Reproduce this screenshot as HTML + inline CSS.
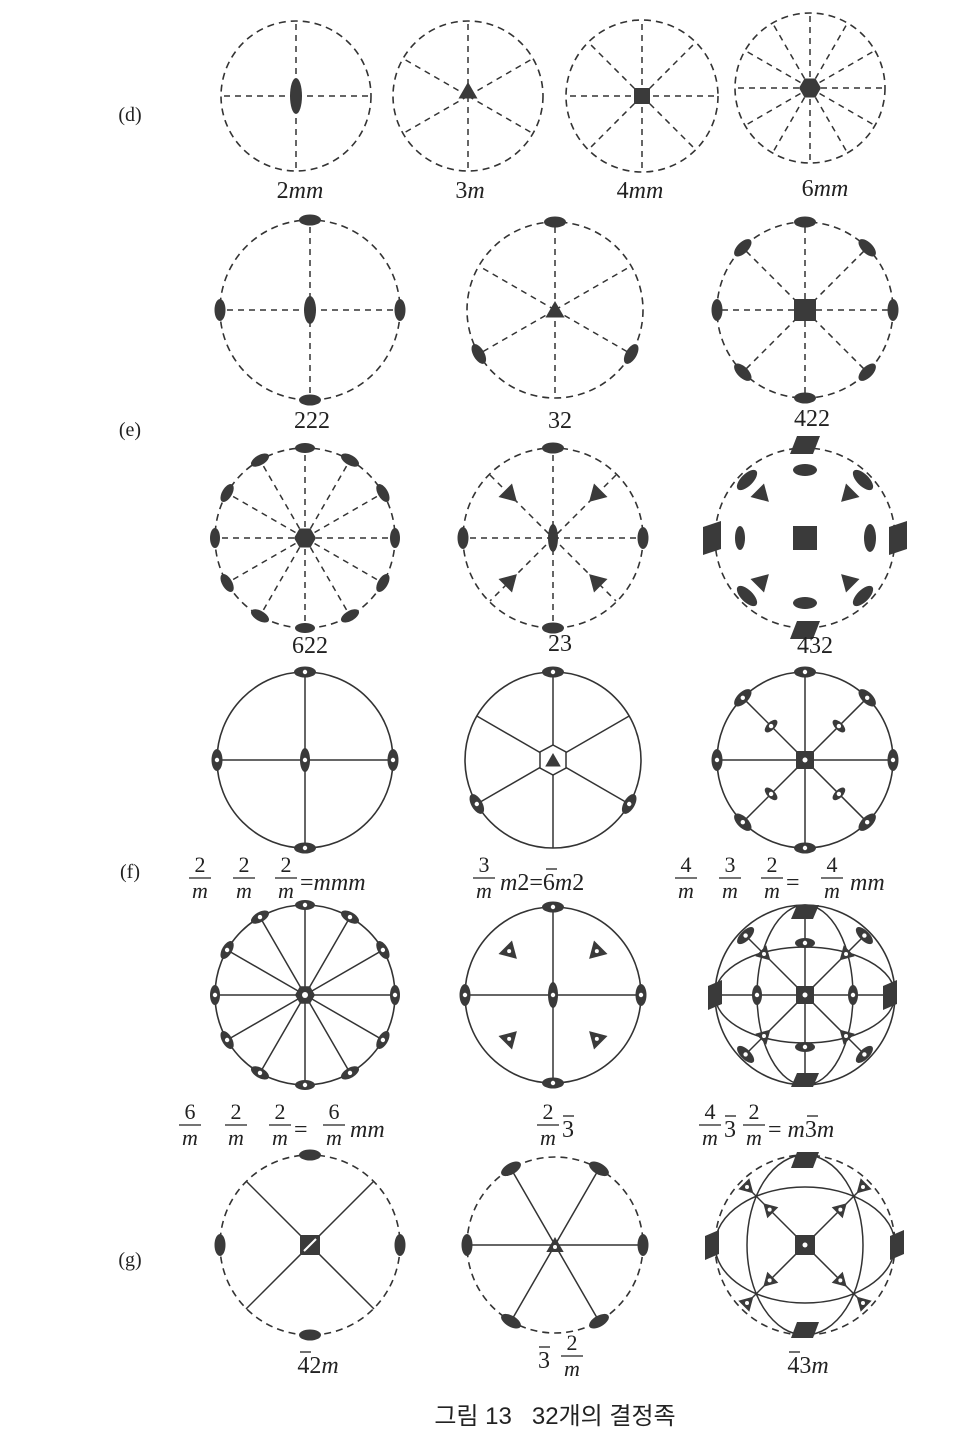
<!DOCTYPE html>
<html><head><meta charset="utf-8">
<style>
html,body{margin:0;padding:0;background:#fff;}
svg{display:block;}
text{font-family:"Liberation Serif",serif;fill:#222;}
</style></head>
<body>
<svg id="s" width="969" height="1434" viewBox="0 0 969 1434" xmlns="http://www.w3.org/2000/svg"></svg>
<script>
const S=document.getElementById('s');let h='';
const F='#3a3a3a';
function rad(a){return a*Math.PI/180;}
function circ(cx,cy,r,d){h+=`<circle cx="${cx}" cy="${cy}" r="${r}" fill="none" stroke="#333" stroke-width="1.6" ${d?'stroke-dasharray="7 5"':''}/>`;}
function spokes(cx,cy,r,n,st,d){for(let i=0;i<n;i++){const a=rad(st+i*360/n);h+=`<line x1="${cx}" y1="${cy}" x2="${(cx+r*Math.cos(a)).toFixed(1)}" y2="${(cy-r*Math.sin(a)).toFixed(1)}" stroke="#333" stroke-width="1.5" ${d?'stroke-dasharray="6 5"':''}/>`;}}
function lens(x,y,rot,a,b,w){h+=`<ellipse cx="0" cy="0" rx="${a}" ry="${b}" fill="${F}" transform="translate(${x.toFixed(1)},${y.toFixed(1)}) rotate(${rot})"/>`;if(w)h+=`<circle cx="${x.toFixed(1)}" cy="${y.toFixed(1)}" r="2.2" fill="#fff"/>`;}
function rim(cx,cy,r,angs,w,a,b){angs.forEach(t=>{const x=cx+r*Math.cos(rad(t)),y=cy-r*Math.sin(rad(t));lens(x,y,-(t+90),a||11,b||5.5,w);});}
function tri(x,y,s,w,rot){rot=rot||0;let p=[];for(let i=0;i<3;i++){const a=rad(90+i*120+rot);p.push((x+s*Math.cos(a)).toFixed(1)+','+(y-s*Math.sin(a)).toFixed(1));}h+=`<polygon points="${p.join(' ')}" fill="${F}"/>`;if(w)h+=`<circle cx="${x}" cy="${y}" r="2" fill="#fff"/>`;}
function sq(x,y,s,w,rot){h+=`<rect x="${x-s}" y="${y-s}" width="${2*s}" height="${2*s}" fill="${F}" transform="rotate(${rot||0} ${x} ${y})"/>`;if(w)h+=`<circle cx="${x}" cy="${y}" r="2.5" fill="#fff"/>`;}
function hex(x,y,s,w){let p=[];for(let i=0;i<6;i++){const a=rad(i*60);p.push((x+s*Math.cos(a)).toFixed(1)+','+(y+s*Math.sin(a)).toFixed(1));}h+=`<polygon points="${p.join(' ')}" fill="${F}"/>`;if(w)h+=`<circle cx="${x}" cy="${y}" r="3" fill="#fff"/>`;}
function para(x,y,wd,ht,sk,vert){h+=`<polygon points="${vert?`${x-wd/2},${y-ht/2+sk} ${x+wd/2},${y-ht/2} ${x+wd/2},${y+ht/2-sk} ${x-wd/2},${y+ht/2}`:`${x-wd/2+sk},${y-ht/2} ${x+wd/2},${y-ht/2} ${x+wd/2-sk},${y+ht/2} ${x-wd/2},${y+ht/2}`}" fill="${F}"/>`;}
function t(x,y,s,sz,it){h+=`<text x="${x}" y="${y}" font-size="${sz||24}" text-anchor="middle" ${it?'font-style="italic"':''}>${s}</text>`;}
function tl(x,y,s){h+=`<text x="${x}" y="${y}" font-size="24">${s}</text>`;}
function bar(x,y,w){h+=`<line x1="${x}" y1="${y}" x2="${x+(w||10)}" y2="${y}" stroke="#222" stroke-width="1.3"/>`;}
function frac(x,y,n,d){t(x,y-6,n,22);h+=`<line x1="${x-11}" y1="${y}" x2="${x+11}" y2="${y}" stroke="#222" stroke-width="1.3"/>`;t(x,y+20,d,22,1);}
const a8=[0,45,90,135,180,225,270,315],a12=[0,30,60,90,120,150,180,210,240,270,300,330],a4=[0,90,180,270];
// row d
circ(296,96,75,1);spokes(296,96,75,4,0,1);lens(296,96,90,18,6);
circ(468,96,75,1);spokes(468,96,75,6,30,1);tri(468,93,11);
circ(642,96,76,1);spokes(642,96,76,8,0,1);sq(642,96,8);
circ(810,88,75,1);spokes(810,88,75,12,0,1);hex(810,88,11);
t(130,121,'(d)',20);
h+=`<text x="300" y="198" font-size="24" text-anchor="middle">2<tspan font-style="italic">mm</tspan></text>`;
h+=`<text x="470" y="198" font-size="24" text-anchor="middle">3<tspan font-style="italic">m</tspan></text>`;
h+=`<text x="640" y="198" font-size="24" text-anchor="middle">4<tspan font-style="italic">mm</tspan></text>`;
h+=`<text x="825" y="196" font-size="24" text-anchor="middle">6<tspan font-style="italic">mm</tspan></text>`;
// row e1
circ(310,310,90,1);spokes(310,310,90,4,0,1);rim(310,310,90,a4);lens(310,310,90,14,6);
circ(555,310,88,1);spokes(555,310,88,6,30,1);rim(555,310,88,[90,210,330]);tri(555,312,11);
circ(805,310,88,1);spokes(805,310,88,8,0,1);rim(805,310,88,a8);sq(805,310,11);
t(130,436,'(e)',20);t(312,428,'222');t(560,428,'32');t(812,426,'422');
// row e2
circ(305,538,90,1);spokes(305,538,90,12,0,1);rim(305,538,90,a12,0,10,5);hex(305,538,11);
circ(553,538,90,1);spokes(553,538,90,4,0,1);h+=`<line x1="490" y1="475" x2="616" y2="601" stroke="#333" stroke-width="1.5" stroke-dasharray="6 5"/><line x1="616" y1="475" x2="490" y2="601" stroke="#333" stroke-width="1.5" stroke-dasharray="6 5"/>`;
rim(553,538,90,a4);lens(553,538,90,14,5);[45,135,225,315].forEach(a=>tri(553+62*Math.cos(rad(a)),538-62*Math.sin(rad(a)),11,0,a+90));
circ(805,538,90,1);sq(805,538,12);para(805,445,30,18,7);para(805,630,30,18,7);para(712,538,18,34,6,1);para(898,538,18,34,6,1);
lens(805,470,0,12,6);lens(805,603,0,12,6);lens(740,538,90,12,5);lens(870,538,90,14,6);
[45,135,225,315].forEach(a=>{lens(805+82*Math.cos(rad(a)),538-82*Math.sin(rad(a)),-(a+90),13,6);tri(805+62*Math.cos(rad(a)),538-62*Math.sin(rad(a)),11,0,a+90);});
t(310,653,'622');t(560,651,'23');t(815,653,'432');
// row f1
circ(305,760,88,0);spokes(305,760,88,4,0,0);rim(305,760,88,a4,1);lens(305,760,90,12,5,1);
circ(553,760,88,0);spokes(553,760,88,6,30,0);rim(553,760,88,[90,210,330],1);h+=`<polygon points="553,745 566,752 566,768 553,775 540,768 540,752" fill="#fff" stroke="#333" stroke-width="1.5"/>`;tri(553,762,9);
circ(805,760,88,0);spokes(805,760,88,8,0,0);rim(805,760,88,a8,1);sq(805,760,9,1);
[45,135,225,315].forEach(a=>lens(805+48*Math.cos(rad(a)),760-48*Math.sin(rad(a)),-(a+90),8,4,1));
t(130,878,'(f)',20);
frac(200,878,'2','m');frac(244,878,'2','m');frac(286,878,'2','m');h+=`<text x="300" y="890" font-size="24">=<tspan font-style="italic">mmm</tspan></text>`;
frac(484,878,'3','m');h+=`<text x="500" y="890" font-size="24"><tspan font-style="italic">m</tspan>2=6<tspan font-style="italic">m</tspan>2</text>`;bar(546,869,11);
frac(686,878,'4','m');frac(730,878,'3','m');frac(772,878,'2','m');tl(786,890,'=');frac(832,878,'4','m');h+=`<text x="850" y="890" font-size="24" font-style="italic">mm</text>`;
// row f2
circ(305,995,90,0);spokes(305,995,90,12,0,0);rim(305,995,90,a12,1,10,5);hex(305,995,10,1);
circ(553,995,88,0);spokes(553,995,88,4,0,0);rim(553,995,88,a4,1);lens(553,995,90,13,5,1);
[45,135,225,315].forEach(a=>tri(553+62*Math.cos(rad(a)),995-62*Math.sin(rad(a)),11,1,a+90));
circ(805,995,90,0);spokes(805,995,90,4,0,0);
h+=`<ellipse cx="805" cy="995" rx="90" ry="48" fill="none" stroke="#333" stroke-width="1.5"/><ellipse cx="805" cy="995" rx="48" ry="90" fill="none" stroke="#333" stroke-width="1.5"/>`;
h+=`<line x1="745" y1="935" x2="865" y2="1055" stroke="#333" stroke-width="1.5"/><line x1="865" y1="935" x2="745" y2="1055" stroke="#333" stroke-width="1.5"/>`;
sq(805,995,9,1);para(805,912,28,14,6);para(805,1080,28,14,6);para(715,995,14,30,6,1);para(890,995,14,30,6,1);
[45,135,225,315].forEach(a=>{lens(805+84*Math.cos(rad(a)),995-84*Math.sin(rad(a)),-(a+90),11,5,1);tri(805+58*Math.cos(rad(a)),995-58*Math.sin(rad(a)),9,1,a+90);});
lens(805,943,0,10,5,1);lens(805,1047,0,10,5,1);lens(757,995,90,10,5,1);lens(853,995,90,10,5,1);
frac(190,1125,'6','m');frac(236,1125,'2','m');frac(280,1125,'2','m');tl(294,1137,'=');frac(334,1125,'6','m');h+=`<text x="350" y="1137" font-size="24" font-style="italic">mm</text>`;
frac(548,1125,'2','m');tl(562,1137,'3');bar(563,1116,11);
frac(710,1125,'4','m');tl(724,1137,'3');bar(725,1116,11);frac(754,1125,'2','m');h+=`<text x="768" y="1137" font-size="24">= <tspan font-style="italic">m</tspan>3<tspan font-style="italic">m</tspan></text>`;bar(807,1116,11);
// row g
circ(310,1245,90,1);h+=`<line x1="246" y1="1181" x2="374" y2="1309" stroke="#333" stroke-width="1.5"/><line x1="374" y1="1181" x2="246" y2="1309" stroke="#333" stroke-width="1.5"/>`;
rim(310,1245,90,a4);sq(310,1245,10,0,0);h+=`<line x1="304" y1="1251" x2="316" y2="1239" stroke="#fff" stroke-width="2"/>`;
circ(555,1245,88,1);spokes(555,1245,88,6,0,0);rim(555,1245,88,[60,120,180,240,300,0]);tri(555,1247,10,1);
circ(805,1245,90,1);h+=`<ellipse cx="805" cy="1245" rx="90" ry="58" fill="none" stroke="#333" stroke-width="1.5"/><ellipse cx="805" cy="1245" rx="58" ry="90" fill="none" stroke="#333" stroke-width="1.5"/>`;
h+=`<line x1="745" y1="1185" x2="865" y2="1305" stroke="#333" stroke-width="1.5"/><line x1="865" y1="1185" x2="745" y2="1305" stroke="#333" stroke-width="1.5"/>`;
sq(805,1245,10,1);para(805,1160,28,16,6);para(805,1330,28,16,6);para(712,1245,14,30,6,1);para(897,1245,14,30,6,1);
[45,135,225,315].forEach(a=>{tri(805+82*Math.cos(rad(a)),1245-82*Math.sin(rad(a)),9,1,a+90);tri(805+50*Math.cos(rad(a)),1245-50*Math.sin(rad(a)),9,1,a+270);});
t(130,1266,'(g)',20);
h+=`<text x="318" y="1373" font-size="24" text-anchor="middle">42<tspan font-style="italic">m</tspan></text>`;bar(300,1352,11);
tl(538,1368,'3');bar(539,1347,11);frac(572,1356,'2','m');
h+=`<text x="808" y="1373" font-size="24" text-anchor="middle">43<tspan font-style="italic">m</tspan></text>`;bar(789,1352,11);
h+=`<text x="555" y="1424" font-size="24" text-anchor="middle" style="font-family:'Liberation Sans','Noto Sans CJK KR',sans-serif">그림 13&#160;&#160;&#160;32개의 결정족</text>`;
S.innerHTML=h;
</script>
</body></html>
